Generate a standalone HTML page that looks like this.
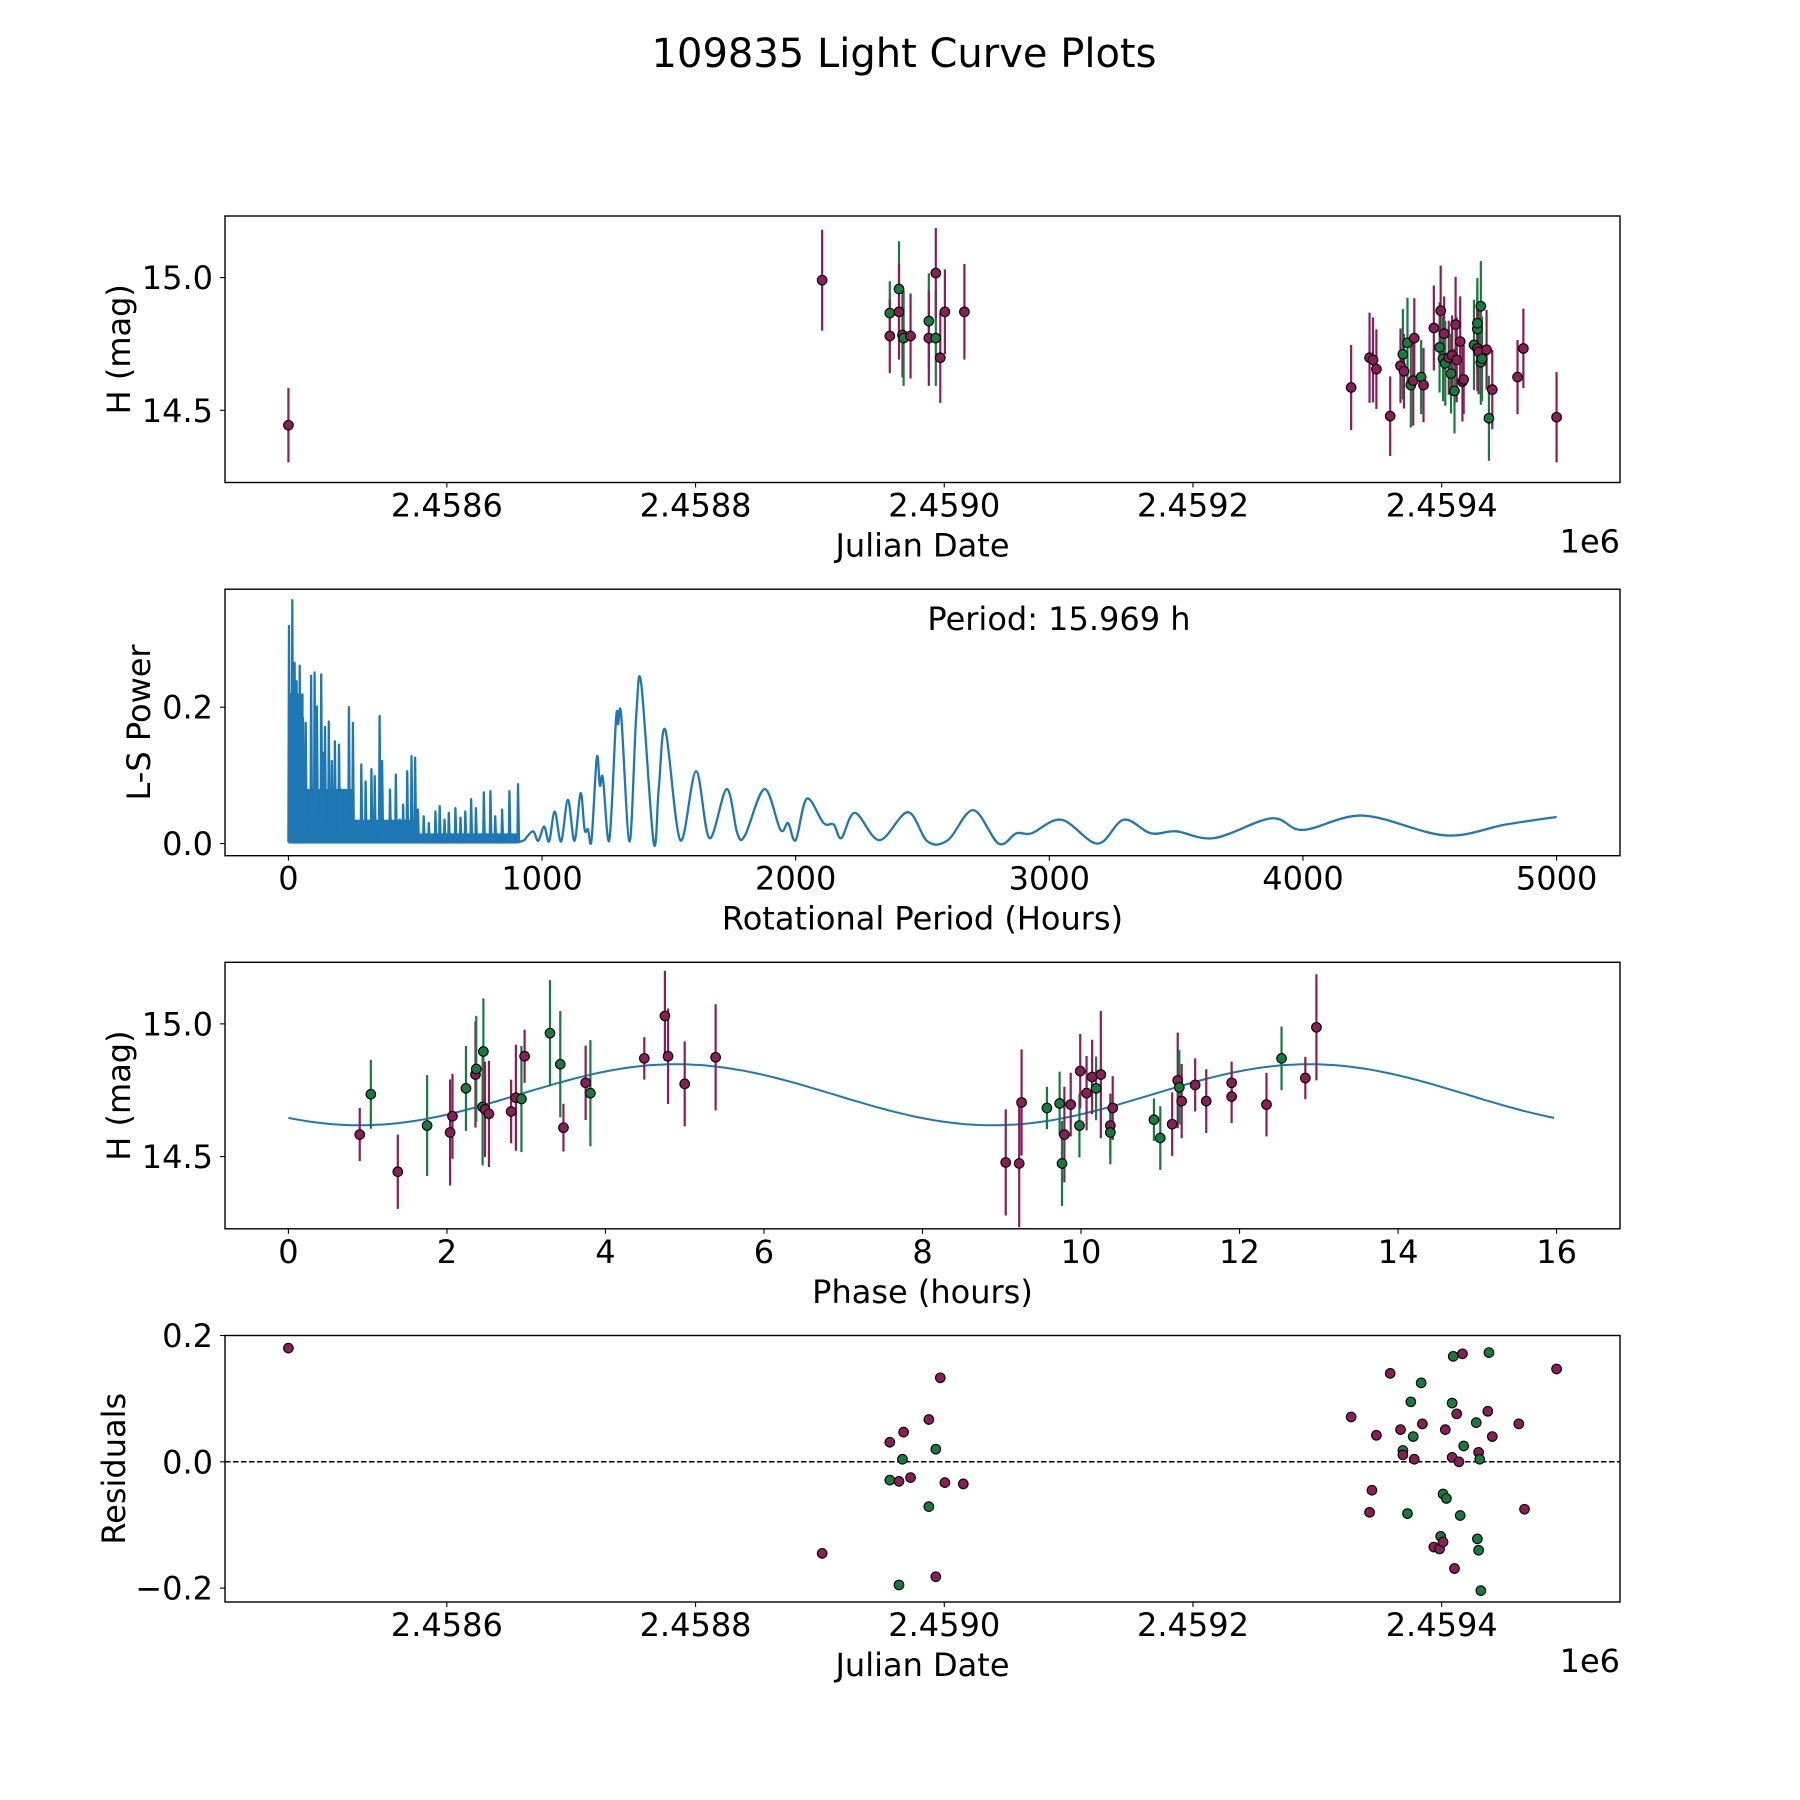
<!DOCTYPE html>
<html><head><meta charset="utf-8"><style>
html,body{margin:0;padding:0;background:#fff}
svg{display:block}
text{font-family:"DejaVu Sans","Liberation Sans",sans-serif;fill:#000}
</style></head><body>
<svg id="fig" width="1800" height="1800" viewBox="0 0 1800 1800" xmlns="http://www.w3.org/2000/svg">
<rect width="1800" height="1800" fill="#fff"/>
<text x="904" y="67" font-size="40" text-anchor="middle">109835 Light Curve Plots</text>
</svg>
<script>
// ---- Panel 1: light curve vs Julian date (JD - 2458000) ----
const lcJD = [472.6,901.8,956.2,956.2,963.6,963.6,966.4,967.3,972.9,987.6,987.6,993.2,993.2,996.8,1000.5,1016.2,
1327.2,1342.0,1344.8,1347.5,1358.6,1366.9,1368.8,1369.7,1372.5,1375.2,1377.1,1378.0,1383.5,1385.4,1393.7,1398.3,1399.2,1401.1,1402.0,1402.9,1405.7,1407.5,1408.4,1410.3,1411.2,1412.1,1414.9,1416.7,1417.7,1426.0,1428.7,1428.7,1428.7,1429.7,1431.5,1431.5,1432.4,1436.1,1438.0,1440.7,1461.0,1465.7,1492.4];
const lcMag = [14.444,14.99,14.866,14.780,14.957,14.871,14.784,14.772,14.780,14.836,14.772,14.772,15.017,14.698,14.871,14.871,
14.586,14.698,14.690,14.655,14.478,14.668,14.711,14.647,14.754,14.595,14.612,14.772,14.625,14.595,14.810,14.737,14.875,14.694,14.789,14.677,14.698,14.638,14.707,14.573,14.823,14.690,14.759,14.608,14.616,14.746,14.806,14.828,14.733,14.720,14.681,14.892,14.694,14.728,14.470,14.578,14.625,14.733,14.474];
const lcErr = [0.14,0.19,0.12,0.14,0.18,0.18,0.16,0.18,0.16,0.18,0.18,0.18,0.17,0.17,0.16,0.18,
0.16,0.17,0.16,0.15,0.15,0.14,0.17,0.14,0.17,0.16,0.17,0.15,0.14,0.14,0.16,0.17,0.17,0.16,0.14,0.16,0.14,0.15,0.15,0.16,0.18,0.16,0.17,0.15,0.13,0.17,0.17,0.17,0.16,0.16,0.16,0.17,0.16,0.15,0.16,0.15,0.14,0.15,0.17];
const lcBand = ['m','m','g','m','g','m','m','g','m','g','m','g','m','m','m','m',
'm','m','m','m','m','m','g','m','g','g','m','m','g','m','m','g','m','g','m','g','m','g','m','g','m','m','m','m','m','g','g','g','m','m','g','g','g','m','g','m','m','m','m'];
const jdTicks = [600,800,1000,1200,1400];
const jdTickLabels = ['2.4586','2.4588','2.4590','2.4592','2.4594'];

// ---- Panel 2: Lomb-Scargle periodogram ----
const lsPeriod = [0,13,22,30,42,55,66,87,101,110,127,134,142,157,169,181,197,206,218,236,252,269,285,302,325,338,357,367,398,421,437,450,466,483,497,508,531,551,577,594,613,630,656,676,695,718,737,768,794,813,840,869,903];
const lsPeak = [0.319,0.357,0.265,0.238,0.261,0.184,0.177,0.246,0.251,0.201,0.248,0.133,0.171,0.179,0.121,0.150,0.145,0.079,0.040,0.200,0.177,0.030,0.116,0.091,0.109,0.099,0.187,0.121,0.079,0.101,0.035,0.057,0.106,0.128,0.126,0.050,0.040,0.030,0.047,0.055,0.035,0.045,0.052,0.038,0.047,0.065,0.052,0.075,0.077,0.040,0.050,0.077,0.087];
const lsSmoothPeriod = [930,964,985,1008,1028,1050,1075,1102,1128,1152,1168,1181,1195,1216,1228,1240,1265,1292,1300,1312,1345,1371,1391,1440,1460,1486,1545,1607,1660,1728,1770,1800,1877,1940,1970,2000,2044,2110,2150,2180,2234,2330,2442,2520,2600,2700,2800,2870,2930,3048,3190,3293,3400,3500,3650,3876,4000,4238,4560,4800,5000];
const lsSmoothPower = [0.005,0.018,0.004,0.025,0.003,0.047,0.003,0.064,0.004,0.074,0.02,0.021,0.005,0.126,0.085,0.096,0.005,0.184,0.175,0.188,0.003,0.185,0.235,0.002,0.08,0.167,0.005,0.106,0.008,0.080,0.015,0.012,0.080,0.02,0.03,0.005,0.066,0.03,0.028,0.008,0.045,0.005,0.046,0.003,0.005,0.049,0.0,0.015,0.015,0.035,0.0,0.035,0.015,0.018,0.008,0.037,0.02,0.041,0.012,0.028,0.039];
const lsXTicks = [0,1000,2000,3000,4000,5000];
const lsYTicks = [0.0,0.2];

// ---- Panel 3: phased light curve ----
const phHours = [0.90,1.04,1.38,1.75,2.04,2.07,2.24,2.36,2.37,2.45,2.46,2.48,2.53,2.81,2.87,2.94,2.98,3.30,3.43,3.47,3.75,3.81,4.49,4.75,4.79,5.00,5.39,9.05,9.22,9.25,9.57,9.73,9.76,9.79,9.87,9.98,9.99,10.07,10.14,10.19,10.25,10.37,10.37,10.40,10.92,11.00,11.15,11.22,11.24,11.27,11.44,11.58,11.90,11.90,12.34,12.53,12.83,12.97];
const phMag = [14.583,14.735,14.443,14.617,14.591,14.652,14.757,14.809,14.830,14.687,14.896,14.678,14.661,14.670,14.722,14.717,14.878,14.965,14.848,14.609,14.778,14.739,14.870,15.030,14.878,14.774,14.874,14.478,14.474,14.704,14.683,14.700,14.474,14.583,14.696,14.617,14.822,14.739,14.800,14.757,14.809,14.617,14.591,14.683,14.639,14.570,14.622,14.787,14.761,14.709,14.770,14.709,14.778,14.726,14.696,14.870,14.796,14.987];
const phBand = ['m','g','m','g','m','m','g','m','g','g','g','m','m','m','m','g','m','g','g','m','m','g','m','m','m','m','m','m','m','m','g','g','g','m','m','g','m','m','m','g','m','m','g','m','g','g','m','m','g','m','m','m','m','m','m','g','m','m'];
const phErr = [0.1,0.13,0.14,0.19,0.2,0.16,0.16,0.2,0.2,0.22,0.2,0.18,0.2,0.12,0.2,0.2,0.1,0.2,0.2,0.09,0.14,0.2,0.08,0.17,0.18,0.16,0.2,0.2,0.24,0.2,0.08,0.12,0.16,0.18,0.12,0.12,0.14,0.14,0.14,0.12,0.24,0.12,0.12,0.12,0.08,0.12,0.12,0.18,0.14,0.14,0.1,0.12,0.08,0.1,0.12,0.12,0.08,0.2];
const fitParams = [14.733, 0.115, 2.9, 7.985, 15.969]; // mean, amplitude, phase offset, half period, period
const phTicks = [0,2,4,6,8,10,12,14,16];

// ---- Panel 4: residuals ----
const resJD = [472.6,901.8,956.2,956.2,963.6,963.6,966.4,967.3,972.9,987.6,987.6,993.2,993.2,996.8,1000.5,1015.3,
1327.2,1342.0,1343.9,1347.5,1358.6,1366.9,1368.8,1368.8,1372.5,1375.2,1377.1,1378.0,1383.5,1384.5,1393.7,1398.3,1399.2,1401.1,1401.1,1402.9,1403.8,1408.4,1408.4,1409.3,1410.3,1412.1,1413.9,1414.9,1416.7,1417.7,1427.8,1428.7,1429.7,1429.7,1430.6,1431.5,1437.1,1438.0,1440.7,1462.0,1466.6,1492.4];
const resVal = [0.180,-0.145,0.031,-0.029,-0.195,-0.031,0.004,0.047,-0.025,0.067,-0.071,0.020,-0.182,0.133,-0.033,-0.035,
0.071,-0.080,-0.045,0.042,0.140,0.051,0.018,0.011,-0.082,0.095,0.040,0.004,0.125,0.060,-0.135,-0.138,-0.118,-0.127,-0.051,0.051,-0.058,0.093,0.007,0.167,-0.169,0.076,0.000,-0.085,0.171,0.025,0.062,-0.122,-0.140,0.015,0.004,-0.204,0.080,0.173,0.040,0.060,-0.075,0.147];
const resBand = ['m','m','m','g','g','m','g','m','m','m','g','g','m','m','m','m',
'm','m','m','m','m','m','g','m','g','g','g','m','g','m','m','m','g','m','g','m','g','g','m','g','m','m','m','g','m','g','g','g','g','m','g','g','m','g','m','m','m','m'];
const resTicks = [-0.2,0.0,0.2];

const COL = {m:'#8a1e58', g:'#177a3e'};
const NS = 'http://www.w3.org/2000/svg';
const svg = document.getElementById('fig');
const AX_L = 225, AX_R = 1620;
const FS = 32;

function el(tag, attrs, parent){
  const e = document.createElementNS(NS, tag);
  for (const k in attrs) e.setAttribute(k, attrs[k]);
  (parent||svg).appendChild(e);
  return e;
}
function lin(d0,d1,r0,r1){ return v => r0 + (v-d0)/(d1-d0)*(r1-r0); }

function makeAxes(name, top, bot, xd, yd, xTicks, xLabels, yTicks, yLabels, xTitle, yTitle, yTitleX){
  const g = el('g', {});
  
  
  const sx = lin(xd[0], xd[1], AX_L, AX_R);
  const sy = lin(yd[0], yd[1], bot, top);
  const plot = el('g', {}, g);
  
  
  xTicks.forEach((t,i)=>{
    const x = sx(t);
    const tk = el('line', {x1:x, x2:x, y1:bot, y2:bot+5, stroke:'#000', 'stroke-width':1.1}, g);
    
    
    const tl = el('text', {x:x, y:bot+34, 'font-size':FS, 'text-anchor':'middle'}, g);
    tl.textContent = xLabels[i];
    
    
  });
  yTicks.forEach((t,i)=>{
    const y = sy(t);
    const tk = el('line', {x1:AX_L-5, x2:AX_L, y1:y, y2:y, stroke:'#000', 'stroke-width':1.1}, g);
    
    
    const tl = el('text', {x:AX_L-12, y:y+11.5, 'font-size':FS, 'text-anchor':'end'}, g);
    tl.textContent = yLabels[i];
    
    
  });
  const xt = el('text', {x:(AX_L+AX_R)/2, y:bot+74, 'font-size':FS, 'text-anchor':'middle'}, g);
  xt.textContent = xTitle;
  
  
  const yt = el('text', {x:0, y:0, 'font-size':FS, 'text-anchor':'middle', transform:`translate(${yTitleX},${(top+bot)/2}) rotate(-90)`}, g);
  yt.textContent = yTitle;
  
  
  return {g, plot, sx, sy, top, bot};
}
function frame(ax){
  const r = el('rect', {x:AX_L, y:ax.top, width:AX_R-AX_L, height:ax.bot-ax.top, fill:'none', stroke:'#000', 'stroke-width':1.4}, ax.g);
  
  
}
function dot(ax, x, y, c, name){
  const d = el('circle', {cx:ax.sx(x), cy:ax.sy(y), r:4.8, fill:COL[c], stroke:'#000', 'stroke-width':1.1}, ax.plot);
  
  
}
function ebar(ax, x, y, e, c){
  const X = ax.sx(x);
  const l = el('line', {x1:X, x2:X, y1:ax.sy(y-e), y2:ax.sy(y+e), stroke:COL[c], 'stroke-width':2.2}, ax.plot);
  
  
}

const P = [[216,482.5],[589.2,855.7],[962.3,1228.8],[1335.5,1602]];
const JD_DOM = [421.6, 1543.4];

// Panel 1
const a1 = makeAxes('light-curve-panel', P[0][0], P[0][1], JD_DOM, [14.228,15.232], jdTicks, jdTickLabels, [14.5,15.0], ['14.5','15.0'], 'Julian Date', 'H (mag)', 130);
lcJD.forEach((x,i)=>ebar(a1, x, lcMag[i], lcErr[i], lcBand[i]));
lcJD.forEach((x,i)=>dot(a1, x, lcMag[i], lcBand[i], 'observation-point'));
frame(a1);
let off1 = el('text', {x:AX_R, y:P[0][1]+70, 'font-size':FS, 'text-anchor':'end'}, a1.g);
off1.textContent = '1e6';



// Panel 2
const a2 = makeAxes('periodogram-panel', P[1][0], P[1][1], [-250,5250], [-0.0178,0.373], lsXTicks, lsXTicks.map(String), lsYTicks, lsYTicks.map(v=>v.toFixed(1)), 'Rotational Period (Hours)', 'L-S Power', 150);
(function(){
  const fills = [[0,60,0.22],[0,250,0.08],[250,500,0.035],[500,900,0.015]];
  fills.forEach(f=>{
    const r = el('rect', {x:a2.sx(f[0]), y:a2.sy(f[2]), width:a2.sx(f[1])-a2.sx(f[0]), height:a2.sy(0)-a2.sy(f[2]), fill:'#1f77b4'}, a2.plot);
    
    
  });
  let d = '';
  lsPeriod.forEach((p,i)=>{
    const x = a2.sx(p);
    d += (i? 'L':'M') + x.toFixed(1) + ' ' + a2.sy(0.002).toFixed(1) + ' L' + (x+0.6).toFixed(1) + ' ' + a2.sy(lsPeak[i]).toFixed(1) + ' L' + (x+1.6).toFixed(1) + ' ' + a2.sy(0.002).toFixed(1) + ' ';
  });
  const pts = lsSmoothPeriod.map((p,i)=>[a2.sx(p), a2.sy(lsSmoothPower[i])]);
  d += 'L' + pts[0][0].toFixed(1) + ' ' + pts[0][1].toFixed(1);
  for (let i=0;i<pts.length-1;i++){
    const p0 = pts[Math.max(0,i-1)], p1 = pts[i], p2 = pts[i+1], p3 = pts[Math.min(pts.length-1,i+2)];
    const c1 = [p1[0]+(p2[0]-p0[0])/6, p1[1]+(p2[1]-p0[1])/6];
    const c2 = [p2[0]-(p3[0]-p1[0])/6, p2[1]-(p3[1]-p1[1])/6];
    d += ` C${c1[0].toFixed(1)} ${c1[1].toFixed(1)} ${c2[0].toFixed(1)} ${c2[1].toFixed(1)} ${p2[0].toFixed(1)} ${p2[1].toFixed(1)}`;
  }
  const path = el('path', {d:d, fill:'none', stroke:'#1f77b4', 'stroke-width':2.3, 'stroke-linejoin':'round'}, a2.plot);
  
  
})();
frame(a2);
let ptxt = el('text', {x:1059, y:630, 'font-size':FS, 'text-anchor':'middle'}, a2.g);
ptxt.textContent = 'Period: 15.969 h';



// Panel 3
const a3 = makeAxes('phased-curve-panel', P[2][0], P[2][1], [-0.8,16.8], [14.228,15.232], phTicks, phTicks.map(String), [14.5,15.0], ['14.5','15.0'], 'Phase (hours)', 'H (mag)', 130);
(function(){
  let d='';
  const n = 200;
  for (let k=0;k<=n;k++){
    const t = fitParams[4]*k/n;
    const v = fitParams[0] + fitParams[1]*Math.sin(2*Math.PI*((t-fitParams[2])/fitParams[3]));
    d += (k?'L':'M') + a3.sx(t).toFixed(1) + ' ' + a3.sy(v).toFixed(1);
  }
  const path = el('path', {d:d, fill:'none', stroke:'#1f77b4', 'stroke-width':2}, a3.plot);
  
  
})();
phHours.forEach((x,i)=>ebar(a3, x, phMag[i], phErr[i], phBand[i]));
phHours.forEach((x,i)=>dot(a3, x, phMag[i], phBand[i], 'phased-point'));
frame(a3);

// Panel 4
const a4 = makeAxes('residuals-panel', P[3][0], P[3][1], JD_DOM, [-0.222,0.2], jdTicks, jdTickLabels, resTicks, ['\u22120.2','0.0','0.2'], 'Julian Date', 'Residuals', 125);
(function(){
  const y = a4.sy(0);
  const l = el('line', {x1:AX_L, x2:AX_R, y1:y, y2:y, stroke:'#000', 'stroke-width':1.5, 'stroke-dasharray':'5.5,2.5'}, a4.plot);
  
  
})();
resJD.forEach((x,i)=>dot(a4, x, resVal[i], resBand[i], 'residual-point'));
frame(a4);
let off4 = el('text', {x:AX_R, y:P[3][1]+70, 'font-size':FS, 'text-anchor':'end'}, a4.g);
off4.textContent = '1e6';


</script>
</body></html>
